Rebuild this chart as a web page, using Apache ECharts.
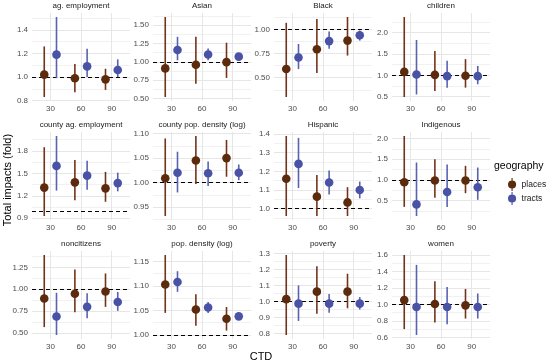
<!DOCTYPE html>
<html><head><meta charset="utf-8">
<script src="https://cdn.jsdelivr.net/npm/echarts@6/dist/echarts.min.js"></script>
<style>html,body{margin:0;padding:0;background:#fff}#c{width:550px;height:364px}</style>
</head><body><div id="c"></div><script>
const panels = ['ag. employment','Asian','Black','children','county ag. employment','county pop. density (log)','Hispanic','Indigenous','noncitizens','pop. density (log)','poverty','women'];
const ctd = ['30','60','90'];
const yTicks = [
  ['0.8','1.0','1.2','1.4'],
  ['0.50','0.75','1.00','1.25','1.50'],
  ['0.50','0.75','1.00'],
  ['0.5','1.0','1.5','2.0'],
  ['0.9','1.2','1.5','1.8'],
  ['0.95','1.00','1.05','1.10'],
  ['1.0','1.1','1.2','1.3','1.4'],
  ['0.5','1.0','1.5','2.0'],
  ['0.50','0.75','1.00','1.25'],
  ['1.00','1.05','1.10','1.15'],
  ['0.8','0.9','1.0','1.1','1.2','1.3'],
  ['0.6','0.8','1.0','1.2','1.4','1.6']
];
const placesMid = [[1.02,0.99,0.98],[0.91,0.96,0.995],[0.59,0.795,0.885],[1.08,1.01,0.99],[1.31,1.38,1.30],[1.009,1.045,1.05],[1.16,1.064,1.033],[0.945,0.985,0.985],[0.895,0.95,0.975],[1.103,1.052,1.033],[1.014,1.061,1.061],[1.052,1.004,0.988]];
const placesLo  = [[0.83,0.87,0.89],[0.52,0.70,0.78],[0.30,0.55,0.73],[0.49,0.63,0.71],[0.93,1.14,1.12],[0.932,0.997,1.012],[0.96,0.96,0.96],[0.35,0.57,0.68],[0.57,0.74,0.80],[1.045,1.019,1.009],[0.79,0.923,0.957],[0.70,0.78,0.828]];
const placesHi  = [[1.26,1.11,1.07],[1.61,1.34,1.26],[1.07,1.11,1.13],[2.37,1.57,1.38],[1.85,1.68,1.52],[1.09,1.095,1.087],[1.39,1.18,1.115],[2.06,1.50,1.34],[1.39,1.225,1.18],[1.163,1.083,1.057],[1.29,1.22,1.173],[1.60,1.28,1.188]];
const tractsMid = [[1.19,1.09,1.06],[1.16,1.10,1.07],[0.71,0.88,0.94],[1.02,0.98,0.98],[1.60,1.47,1.37],[1.02,1.019,1.02],[1.24,1.14,1.10],[0.41,0.71,0.825],[0.69,0.80,0.855],[1.108,1.056,1.038],[0.986,0.986,0.986],[0.968,0.968,0.968]];
const tractsLo  = [[0.99,1.00,1.00],[1.02,1.02,1.02],[0.59,0.80,0.885],[0.55,0.71,0.79],[1.27,1.28,1.26],[0.98,0.993,1.005],[1.11,1.075,1.055],[0.13,0.35,0.52],[0.48,0.67,0.755],[1.088,1.045,1.033],[0.878,0.929,0.949],[0.628,0.76,0.828]];
const tractsHi  = [[1.51,1.24,1.15],[1.34,1.18,1.11],[0.85,0.98,0.99],[1.83,1.34,1.22],[2.00,1.67,1.51],[1.063,1.043,1.037],[1.38,1.205,1.145],[1.42,1.37,1.30],[0.96,0.955,0.97],[1.13,1.067,1.044],[1.10,1.047,1.027],[1.48,1.212,1.132]];

const FONT = 'Liberation Sans, Arial, sans-serif';
const gridLeft = [32,153,274,392], gridTop = [13,132,251], W = 98, H = 88;
const cPlaces = '#5c2b0e', cPlacesLine = '#723418';
const cTracts = '#4a52a6', cTractsLine = '#5862b0';
const DODGE = 0.2;

const grid = [], xAxis = [], yAxis = [], series = [], graphic = [];

function rangeSeries(name, color, lineColor, off, mid, lo, hi, i, yIdx) {
  return {
    type: 'custom', name, xAxisIndex: i, yAxisIndex: yIdx, z: 5,
    itemStyle: { color },
    data: mid.map((m, k) => [k + 1 + off, m, lo[k], hi[k]]),
    encode: { x: 0, y: [1, 2, 3] },
    renderItem: (params, api) => {
      const x = api.value(0);
      const p = api.coord([x, api.value(1)]);
      const a = api.coord([x, api.value(2)]);
      const b = api.coord([x, api.value(3)]);
      return { type: 'group', children: [
        { type: 'line', shape: { x1: a[0], y1: a[1], x2: b[0], y2: b[1] }, style: { stroke: lineColor, lineWidth: 1.6 } },
        { type: 'circle', shape: { cx: p[0], cy: p[1], r: 4.3 }, style: { fill: color } }
      ]};
    }
  };
}

panels.forEach((name, i) => {
  const c = i % 4, r = Math.floor(i / 4);
  grid.push({ left: gridLeft[c], top: gridTop[r], width: W, height: H });
  const vals = [].concat(placesLo[i], placesHi[i], tractsLo[i], tractsHi[i], placesMid[i], tractsMid[i], [1]);
  const lo = Math.min(...vals), hi = Math.max(...vals), pad = (hi - lo) * 0.05;
  const ymin = lo - pad, ymax = hi + pad;
  const ticks = yTicks[i].map(Number);
  const step = ticks[1] - ticks[0];
  const minors = [];
  for (let k = -1; k <= ticks.length; k++) {
    const v = ticks[0] + (k + 0.5) * step;
    if (v >= ymin && v <= ymax) minors.push(v);
  }
  xAxis.push({
    gridIndex: i, type: 'value', min: 0.4, max: 3.6,
    axisLine: { show: false },
    axisTick: { show: false, customValues: [1, 2, 3] },
    axisLabel: { customValues: [1, 2, 3], formatter: v => ctd[Math.round(v) - 1], color: '#4d4d4d', fontSize: 8, fontFamily: FONT, margin: 4 },
    splitLine: { show: true, lineStyle: { color: '#e6e6e6', width: 1 } }
  });
  yAxis.push({
    gridIndex: i, type: 'value', min: ymin, max: ymax, position: 'right',
    axisLine: { show: false },
    axisTick: { show: false, customValues: minors },
    axisLabel: { show: false, customValues: minors },
    splitLine: { show: true, lineStyle: { color: '#f1f1f1', width: 1 } }
  });
  yAxis.push({
    gridIndex: i, type: 'value', min: ymin, max: ymax, position: 'left',
    axisLine: { show: false },
    axisTick: { show: false, customValues: ticks },
    axisLabel: {
      customValues: ticks,
      formatter: v => { const j = ticks.findIndex(t => Math.abs(t - v) < 1e-9); return j >= 0 ? yTicks[i][j] : ''; },
      color: '#4d4d4d', fontSize: 8, fontFamily: FONT, margin: 4
    },
    splitLine: { show: true, lineStyle: { color: '#e6e6e6', width: 1 } }
  });
  const yIdx = 2 * i + 1;
  series.push({
    type: 'line', name: 'ref' + i, xAxisIndex: i, yAxisIndex: yIdx, data: [], z: 2,
    markLine: { silent: true, symbol: 'none', label: { show: false },
      lineStyle: { color: '#000', type: [4, 3], width: 1.2 }, data: [{ yAxis: 1 }] }
  });
  series.push(rangeSeries('places', cPlaces, cPlacesLine, -DODGE, placesMid[i], placesLo[i], placesHi[i], i, yIdx));
  series.push(rangeSeries('tracts', cTracts, cTractsLine, DODGE, tractsMid[i], tractsLo[i], tractsHi[i], i, yIdx));
  graphic.push({ type: 'text', x: gridLeft[c] + W / 2, y: gridTop[r] - 7,
    style: { text: name, fill: '#1a1a1a', font: '8px ' + FONT, textAlign: 'center', textVerticalAlign: 'middle' } });
});

graphic.push({ type: 'text', x: 8, y: 180, rotation: Math.PI / 2,
  style: { text: 'Total impacts (fold)', fill: '#000', font: '11px ' + FONT, textAlign: 'center', textVerticalAlign: 'middle' } });
graphic.push({ type: 'text', x: 261, y: 357,
  style: { text: 'CTD', fill: '#000', font: '11px ' + FONT, textAlign: 'center', textVerticalAlign: 'middle' } });
graphic.push({ type: 'text', x: 494, y: 166,
  style: { text: 'geography', fill: '#000', font: '10.5px ' + FONT, textAlign: 'left', textVerticalAlign: 'middle' } });

const icon = 'path://M4.3,0 L5.7,0 L5.7,16 L4.3,16 Z M0,8 A5,5 0 1,1 10,8 A5,5 0 1,1 0,8 Z';

const option = {
  animation: false,
  backgroundColor: '#fff',
  grid, xAxis, yAxis, series, graphic,
  legend: {
    orient: 'vertical', left: 503, top: 173, itemWidth: 9, itemHeight: 13, itemGap: 1,
    data: [{ name: 'places', icon }, { name: 'tracts', icon }],
    textStyle: { fontSize: 8.5, color: '#1a1a1a', fontFamily: FONT },
    selectedMode: false
  }
};
const chart = echarts.init(document.getElementById('c'));
chart.setOption(option);
</script></body></html>
